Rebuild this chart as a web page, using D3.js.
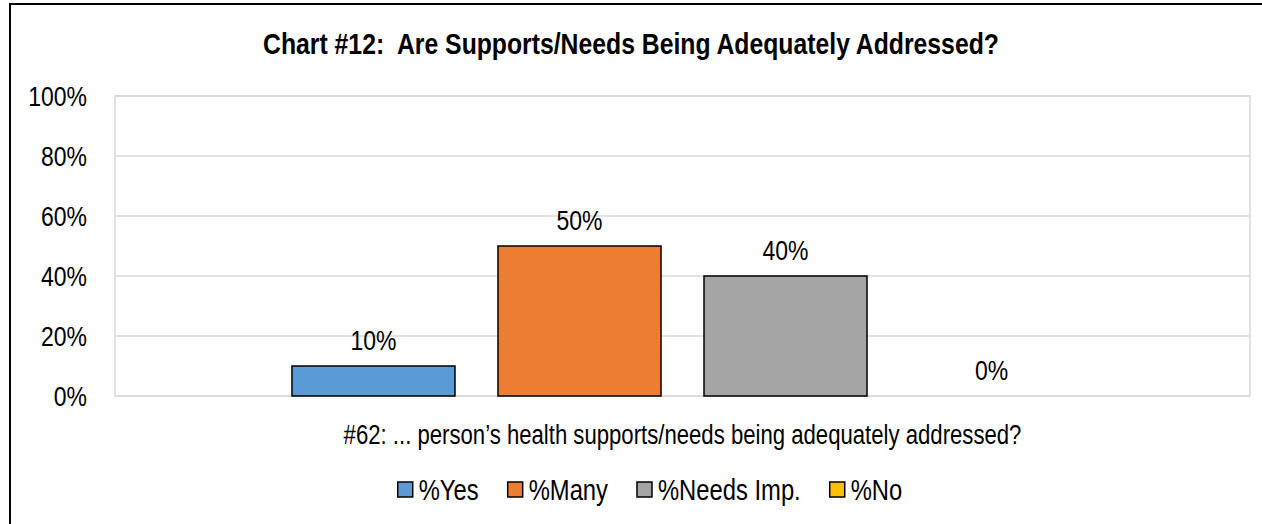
<!DOCTYPE html>
<html>
<head>
<meta charset="utf-8">
<script src="https://cdn.jsdelivr.net/npm/d3@7"></script>
<style>
  html, body { margin: 0; padding: 0; background: #fff; }
  svg { display: block; }
  text { font-family: "Liberation Sans", Arial, sans-serif; fill: #000; }
</style>
</head>
<body>
<svg id="chart" width="1262" height="524"></svg>
<script>
const title = "Chart #12:  Are Supports/Needs Being Adequately Addressed?";
const categories = ["#62: ... person\u2019s health supports/needs being adequately addressed?"];
const seriesNames = ["%Yes", "%Many", "%Needs Imp.", "%No"];
const seriesValues = [10, 50, 40, 0];
const seriesColors = ["#5B9BD5", "#ED7D31", "#A5A5A5", "#FFC000"];
const yTicks = [0, 20, 40, 60, 80, 100];

const NARROW = 0.82;
function narrow(sel, factor) {
  sel.each(function () {
    const t = d3.select(this);
    t.attr("textLength", null);
    const len = this.getComputedTextLength();
    t.attr("textLength", len * (factor || NARROW)).attr("lengthAdjust", "spacingAndGlyphs");
  });
}

const svg = d3.select("#chart");
const plot = { left: 115, right: 1250, top: 96, bottom: 396 };

// outer chart border
svg.append("rect").attr("x", 10).attr("y", 4).attr("width", 1270).attr("height", 540)
  .attr("fill", "#fff").attr("stroke", "#000").attr("stroke-width", 2);

// title
const tt = svg.append("text").attr("x", 631).attr("y", 54).attr("text-anchor", "middle")
  .attr("font-size", 30).attr("font-weight", "bold").style("white-space", "pre")
  .attr("xml:space", "preserve").text(title);
narrow(tt, 0.825);

const y = d3.scaleLinear().domain([0, 100]).range([plot.bottom, plot.top]);
const x0 = d3.scaleBand().domain(categories).range([plot.left, plot.right]).paddingOuter(0.2266).paddingInner(0);
const x1 = d3.scaleBand().domain(seriesNames).range([0, x0.bandwidth()]).paddingInner(43 / 206).paddingOuter(0);

// gridlines
svg.append("g").selectAll("line").data(yTicks).join("line")
  .attr("x1", plot.left).attr("x2", plot.right)
  .attr("y1", d => y(d)).attr("y2", d => y(d))
  .attr("stroke", "#D9D9D9").attr("stroke-width", 1.5);
// plot border
svg.append("rect").attr("x", plot.left).attr("y", plot.top)
  .attr("width", plot.right - plot.left).attr("height", plot.bottom - plot.top)
  .attr("fill", "none").attr("stroke", "#D9D9D9").attr("stroke-width", 1.5);

const FF = '"Liberation Sans", Arial, sans-serif';

// y axis
const yAxis = d3.axisLeft(y).tickValues(yTicks).tickFormat(d => d + "%").tickSize(0).tickPadding(28);
const ya = svg.append("g").attr("transform", `translate(${plot.left},0)`).call(yAxis);
ya.select(".domain").remove();
ya.selectAll("text").attr("font-size", 28).attr("dy", "0.34em").style("font-family", FF).attr("fill", "#000");
narrow(ya.selectAll("text"));

// x axis (category label)
const xAxis = d3.axisBottom(x0).tickSize(0).tickPadding(40);
const xa = svg.append("g").attr("transform", `translate(0,${plot.bottom})`).call(xAxis);
xa.select(".domain").remove();
xa.selectAll("text").attr("font-size", 27).attr("dy", "0.3em").style("font-family", FF).attr("fill", "#000");
narrow(xa.selectAll("text"));

// bars
const data = seriesNames.map((s, i) => ({ cat: categories[0], name: s, value: seriesValues[i], color: seriesColors[i] }));
const g = svg.append("g");
g.selectAll("rect").data(data.filter(d => d.value > 0)).join("rect")
  .attr("x", d => x0(d.cat) + x1(d.name))
  .attr("y", d => y(d.value))
  .attr("width", x1.bandwidth())
  .attr("height", d => y(0) - y(d.value))
  .attr("fill", d => d.color).attr("stroke", "#000").attr("stroke-width", 1.5);

// value labels
const vl = g.selectAll("text").data(data).join("text")
  .attr("x", d => x0(d.cat) + x1(d.name) + x1.bandwidth() / 2)
  .attr("y", d => y(d.value) - 16)
  .attr("text-anchor", "middle").attr("font-size", 28)
  .text(d => d.value + "%");
narrow(vl);

// legend
const legendItems = seriesNames.map((s, i) => ({ name: s, color: seriesColors[i] }));
const lg = svg.append("g");
const fontSize = 29;
const widths = [];
const tmp = svg.append("text").attr("font-size", fontSize);
legendItems.forEach(d => { tmp.text(d.name); widths.push(tmp.node().getComputedTextLength() * NARROW); });
tmp.remove();
const sq = 15, sqGap = 6, itemGap = 29;
const total = d3.sum(widths) + legendItems.length * (sq + sqGap) + (legendItems.length - 1) * itemGap;
let cx = 650 - total / 2;
const ly = 489.5;
legendItems.forEach((d, i) => {
  lg.append("rect").attr("x", cx).attr("y", ly - sq / 2).attr("width", sq).attr("height", sq)
    .attr("fill", d.color).attr("stroke", "#000").attr("stroke-width", 1.5);
  lg.append("text").attr("x", cx + sq + sqGap).attr("y", ly).attr("dy", "0.36em")
    .attr("font-size", fontSize).attr("textLength", widths[i]).attr("lengthAdjust", "spacingAndGlyphs")
    .text(d.name);
  cx += sq + sqGap + widths[i] + itemGap;
});
</script>
</body>
</html>
